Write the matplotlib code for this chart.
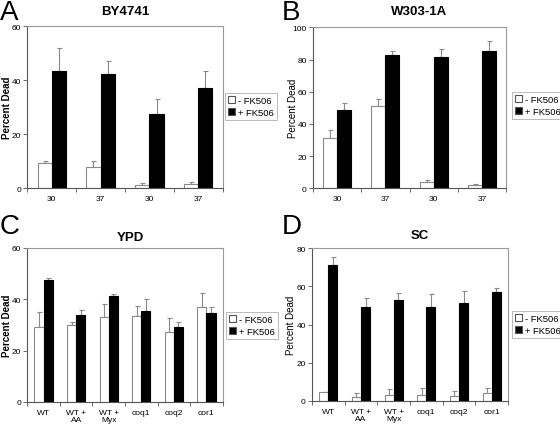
import matplotlib
matplotlib.use("Agg")
import matplotlib.pyplot as plt
import numpy as np

plt.rcParams["font.family"] = ["Liberation Sans", "DejaVu Sans"]

# ---- data ----
cats_ab = ["30", "37", "30", "37"]
a_minus = [9.3, 7.8, 1.1, 1.5]
a_minus_err = [0.7, 2.4, 0.9, 0.7]
a_plus = [43.6, 42.5, 27.4, 37.2]
a_plus_err = [8.3, 4.5, 5.6, 6.1]

b_minus = [31.5, 50.9, 3.7, 1.9]
b_minus_err = [4.5, 4.4, 1.3, 0.8]
b_plus = [48.9, 82.8, 81.4, 85.5]
b_plus_err = [3.9, 2.3, 5.1, 5.8]

cats_cd = ["WT", "WT +\nAA", "WT +\nMyx", "coq1", "coq2", "cor1"]
c_minus = [29.4, 30.1, 33.2, 33.5, 27.1, 37.0]
c_minus_err = [5.5, 0.9, 4.8, 3.8, 5.5, 5.3]
c_plus = [47.4, 33.9, 41.2, 35.6, 29.4, 34.5]
c_plus_err = [0.9, 1.8, 1.0, 4.4, 1.6, 2.4]

d_minus = [4.7, 1.9, 3.0, 3.0, 2.8, 4.0]
d_minus_err = [0.0, 2.1, 3.3, 3.6, 2.3, 2.6]
d_plus = [71.0, 49.1, 52.8, 49.0, 51.4, 57.0]
d_plus_err = [4.3, 4.7, 3.7, 7.3, 6.1, 2.1]

W, H = 560, 427
fig = plt.figure(figsize=(W / 100, H / 100), dpi=100)
fig.patch.set_facecolor("white")

def fx(px):
    return px / W

def fy(py):
    return 1 - py / H

def panel(rect_px, cats, minus, minus_err, plus, plus_err, ymax, ystep,
          title, letter, letter_xy, title_xy, ylab_bold, ylab_x, legend_px):
    l, t, r, b = rect_px
    ax = fig.add_axes([fx(l), fy(b), fx(r) - fx(l), fy(t) - fy(b)])
    n = len(cats)
    x = np.arange(n)
    bw = 0.29 if n == 4 else 0.28
    ekw = dict(ecolor="#8a8a8a", elinewidth=0.8, capsize=1.8, capthick=0.8)
    ax.bar(x - bw / 2, minus, bw, color="white", edgecolor="#8a8a8a",
           linewidth=0.8, label="- FK506", zorder=2)
    ax.errorbar(x - bw / 2, minus, yerr=[np.zeros(n), minus_err], fmt="none",
                zorder=1, **ekw)
    ax.bar(x + bw / 2, plus, bw, color="black", edgecolor="black",
           linewidth=0.8, label="+ FK506", zorder=2)
    ax.errorbar(x + bw / 2, plus, yerr=[np.zeros(n), plus_err], fmt="none",
                zorder=1, **ekw)
    ax.set_xlim(-0.5, n - 0.5)
    ax.set_ylim(0, ymax)
    ax.set_yticks(np.arange(0, ymax + 1, ystep))
    ax.set_xticks(x)
    ax.set_xticklabels(cats, fontsize=6, linespacing=1.0)
    ax.set_xticks(np.arange(-0.5, n, 1.0), minor=True)
    ax.tick_params(axis="x", which="major", length=0, pad=5)
    ax.tick_params(axis="x", which="minor", length=3, width=0.6,
                   color="#555555", direction="out")
    ax.tick_params(axis="y", length=3, width=0.6, color="#555555",
                   labelsize=6, pad=1.5)
    for s in ["top", "right"]:
        ax.spines[s].set_color("#9a9a9a")
        ax.spines[s].set_linewidth(0.8)
    for s in ["left", "bottom"]:
        ax.spines[s].set_color("#555555")
        ax.spines[s].set_linewidth(0.8)
    ax.set_ylabel("Percent Dead", fontsize=7,
                  fontweight="bold" if ylab_bold else "normal")
    ax.yaxis.set_label_coords((ylab_x - l) / (r - l), 0.5)
    fig.text(fx(title_xy[0]), fy(title_xy[1]), title, fontsize=9.5,
             fontweight="bold", ha="center", va="center")
    fig.text(fx(letter_xy[0]), fy(letter_xy[1]), letter, fontsize=20,
             ha="left", va="baseline")
    ll, lt, lr, lb = legend_px
    leg = ax.legend(loc="center left",
                    bbox_to_anchor=(fx(ll), fy((lt + lb) / 2)),
                    bbox_transform=fig.transFigure, fontsize=6.8,
                    frameon=True, fancybox=False, borderpad=0.3,
                    handlelength=0.8, handleheight=0.8, handletextpad=0.3,
                    labelspacing=0.3, borderaxespad=0)
    leg.get_frame().set_edgecolor("#9a9a9a")
    leg.get_frame().set_linewidth(0.6)
    for p in leg.get_patches():
        p.set_edgecolor("#555555")
    return ax

panel((27.3, 27.3, 222.7, 189.3), cats_ab, a_minus, a_minus_err, a_plus,
      a_plus_err, 60, 20, "BY4741", "A", (0, 20), (125, 12), True, 11.5,
      (225, 95, 273, 120))
panel((313, 28.3, 506, 189.3), cats_ab, b_minus, b_minus_err, b_plus,
      b_plus_err, 100, 20, "W303-1A", "B", (282, 20), (419, 12), False, 298.5,
      (512, 95, 560, 118))
panel((27.3, 249, 222.7, 403), cats_cd, c_minus, c_minus_err, c_plus,
      c_plus_err, 60, 20, "YPD", "C", (0, 234), (130, 238), True, 11.5,
      (226, 314, 274, 339))
panel((312, 249.3, 508, 402), cats_cd, d_minus, d_minus_err, d_plus,
      d_plus_err, 80, 20, "SC", "D", (282, 234), (420, 236), False, 296,
      (512, 313, 559, 338))

fig.savefig("out.png", dpi=100, facecolor="white")
